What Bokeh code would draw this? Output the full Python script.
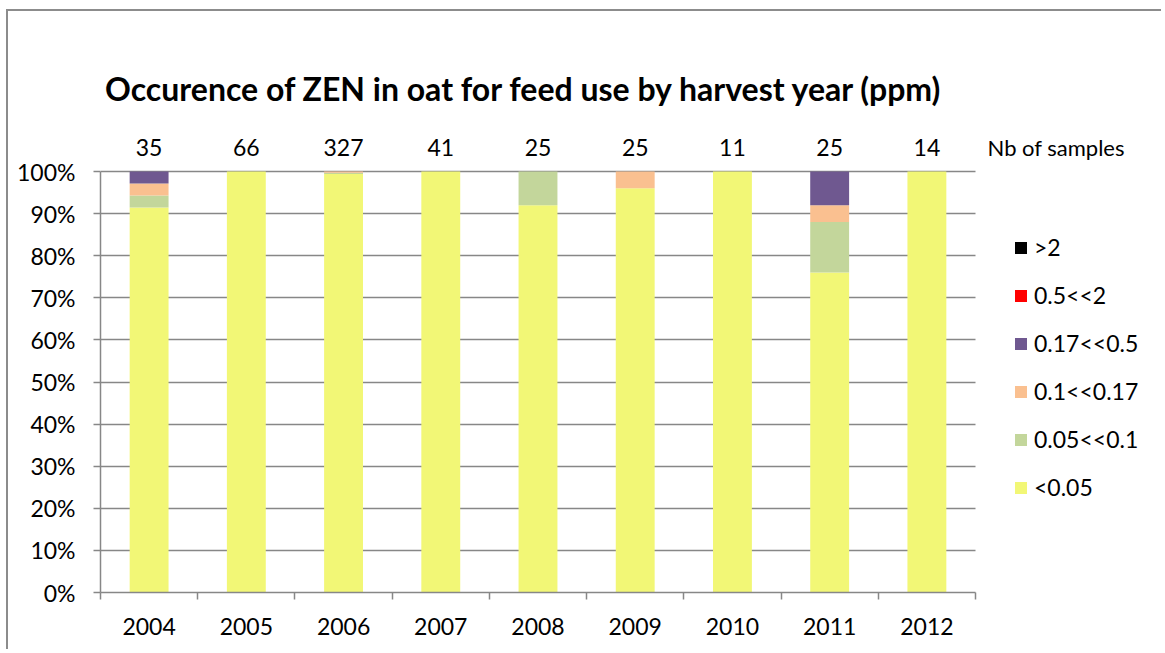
from bokeh.plotting import figure
from bokeh.models import (ColumnDataSource, FixedTicker, CustomJSTickFormatter, PrintfTickFormatter,
                          Range1d, Label, LabelSet)
from bokeh.core.properties import value
from bokeh.embed import file_html
from bokeh.resources import INLINE

# ---------------- data ----------------
years = ["2004", "2005", "2006", "2007", "2008", "2009", "2010", "2011", "2012"]
nb_samples = [35, 66, 327, 41, 25, 25, 11, 25, 14]
lt_005 = [91.43, 100, 99.39, 100, 92, 96, 100, 76, 100]
c005_01 = [2.86, 0, 0.31, 0, 8, 0, 0, 12, 0]
c01_017 = [2.86, 0, 0.31, 0, 0, 4, 0, 4, 0]
c017_05 = [2.86, 0, 0, 0, 0, 0, 0, 8, 0]
c05_2 = [0, 0, 0, 0, 0, 0, 0, 0, 0]
gt_2 = [0, 0, 0, 0, 0, 0, 0, 0, 0]
series_names = ["<0.05", "0.05<<0.1", "0.1<<0.17", "0.17<<0.5", "0.5<<2", ">2"]
series_colors = ["#F2F776", "#C3D69B", "#FAC090", "#6F5890", "#FF0000", "#000000"]
y_ticks = [0, 10, 20, 30, 40, 50, 60, 70, 80, 90, 100]
title_text = "Occurence of ZEN in oat for feed use by harvest year (ppm)"
nb_title = "Nb of samples"

FONT = "Lato"
GRAY = "#878787"

# ---------------- layout (pixels) ----------------
W, H = 1155, 640
LEFT, BOTTOM = 92, 59
PLOT_W, PLOT_H = 875, 421          # width of the 9 categories, height of 0..100 %
n = len(years)
px_x = PLOT_W / n
px_y = PLOT_H / 100.0
frame_w = W - LEFT
frame_h = H - BOTTOM
x_end = frame_w / px_x
y_end = frame_h / px_y

keys = ["s0", "s1", "s2", "s3", "s4", "s5"]
src = ColumnDataSource(dict(
    x=[i + 0.5 for i in range(n)],
    s0=lt_005, s1=c005_01, s2=c01_017, s3=c017_05, s4=c05_2, s5=gt_2,
    nb=[str(v) for v in nb_samples],
))

p = figure(width=W, height=H, output_backend="svg", toolbar_location=None, tools="",
           x_range=Range1d(0, x_end), y_range=Range1d(0, y_end),
           min_border_left=LEFT, min_border_right=0, min_border_top=0, min_border_bottom=BOTTOM,
           styles={"margin-left": "6px", "margin-top": "9px",
                   "border-left": "2px solid #8c8c8c", "border-top": "2px solid #8c8c8c"})
p.outline_line_color = None
p.background_fill_color = "white"
p.border_fill_color = "white"

rs = p.vbar_stack(keys, x="x", width=0.4, color=series_colors, line_color=None,
                  source=src, legend_label=series_names)

# ---- axes ----
p.xaxis.bounds = (0, n)
p.xaxis.ticker = FixedTicker(ticks=[i + 0.5 for i in range(n)], minor_ticks=list(range(n + 1)))
p.xaxis.formatter = CustomJSTickFormatter(args=dict(labels=years),
                                          code="return labels[Math.floor(tick)] || '';")
p.xaxis.major_tick_line_color = None
p.xaxis.major_tick_out = 0
p.xaxis.major_tick_in = 0
p.xaxis.minor_tick_out = 7
p.xaxis.minor_tick_in = 0
p.xaxis.minor_tick_line_color = GRAY
p.xaxis.minor_tick_line_width = 1.5
p.xaxis.axis_line_color = GRAY
p.xaxis.axis_line_width = 1.5
p.xaxis.major_label_standoff = 18
p.xaxis.major_label_text_font = FONT
p.xaxis.major_label_text_font_size = "23px"
p.xaxis.major_label_text_color = "black"

p.yaxis.bounds = (0, 100)
p.yaxis.ticker = FixedTicker(ticks=y_ticks)
p.yaxis.formatter = PrintfTickFormatter(format="%d%%")
p.yaxis.major_tick_out = 7
p.yaxis.major_tick_in = 0
p.yaxis.minor_tick_line_color = None
p.yaxis.major_tick_line_color = GRAY
p.yaxis.major_tick_line_width = 1.5
p.yaxis.axis_line_color = GRAY
p.yaxis.axis_line_width = 1.5
p.yaxis.major_label_standoff = 18
p.yaxis.major_label_text_font = FONT
p.yaxis.major_label_text_font_size = "23px"
p.yaxis.major_label_text_color = "black"

p.xgrid.grid_line_color = None
p.ygrid.ticker = FixedTicker(ticks=y_ticks)
p.ygrid.grid_line_color = GRAY
p.ygrid.grid_line_width = 1.5
try:
    p.ygrid.cross_bounds = (0, n)
except Exception:
    p.ygrid.grid_line_color = None
    p.segment(x0=[0] * len(y_ticks), x1=[n] * len(y_ticks), y0=y_ticks, y1=y_ticks,
              line_color=GRAY, line_width=1.5, level="underlay")

# ---- legend ----
leg = p.legend[0]
leg.items = list(reversed(leg.items))
leg.location = (913, 81)
leg.border_line_color = None
leg.background_fill_alpha = 0
leg.padding = 0
leg.margin = 0
leg.spacing = 0
leg.glyph_width = 15
leg.glyph_height = 15
leg.label_height = 48
leg.label_standoff = 6
leg.label_text_font = FONT
leg.label_text_font_size = "23px"
leg.label_text_color = "black"

# ---- texts ----
p.add_layout(Label(x=(516 - LEFT) / px_x, y=(frame_h - 77) / px_y, text=title_text,
                   text_align="center", text_baseline="middle",
                   text_font=FONT, text_font_style="bold", text_font_size="32px", text_color="black"))
p.add_layout(LabelSet(x="x", y=(frame_h - 136) / px_y, text="nb", source=src, text_align="center",
                      text_baseline="middle", text_font=value(FONT),
                      text_font_size=value("23px"), text_color=value("black")))
p.add_layout(Label(x=(979 - LEFT) / px_x, y=(frame_h - 136) / px_y, text=nb_title,
                   text_align="left", text_baseline="middle",
                   text_font=FONT, text_font_size="22px", text_color="black"))

open("out.html", "w").write(file_html(p, INLINE))
